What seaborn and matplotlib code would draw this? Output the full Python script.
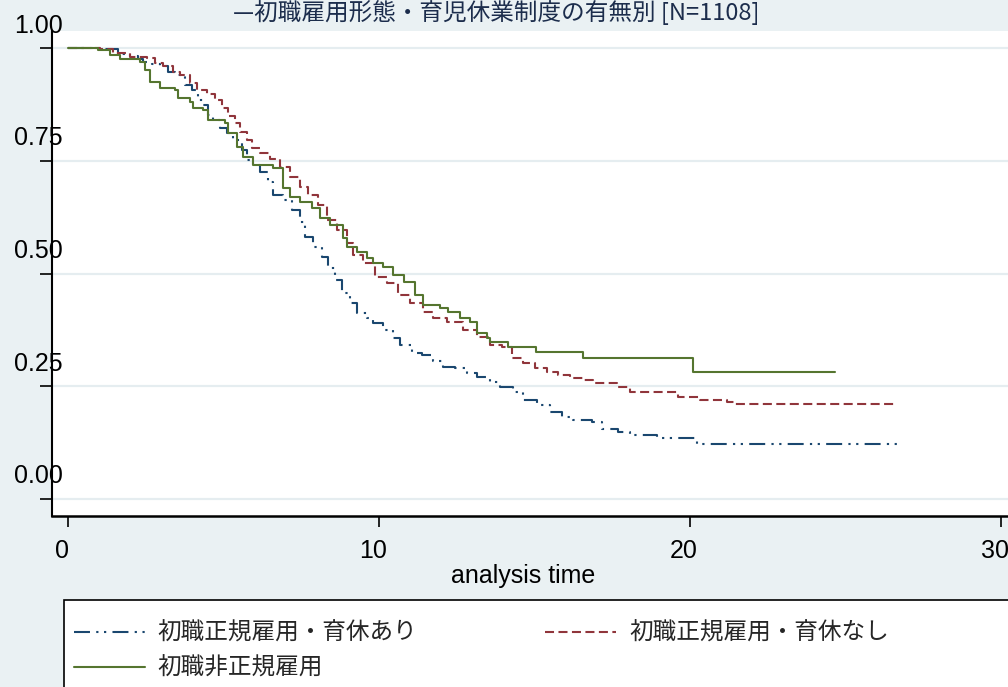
import numpy as np
import pandas as pd
import matplotlib
matplotlib.use("Agg")
import matplotlib.pyplot as plt
import matplotlib.transforms as mtransforms
from matplotlib.patches import Rectangle
import seaborn as sns

# ---------------- data ----------------
title = "—初職雇用形態・育児休業制度の有無別 [N=1108]"
x_label = "analysis time"
group_labels = ["初職正規雇用・育休あり", "初職正規雇用・育休なし", "初職非正規雇用"]
x_ticks = [0, 10, 20, 30]
y_ticks = [0.00, 0.25, 0.50, 0.75, 1.00]
y_tick_labels = ["0.00", "0.25", "0.50", "0.75", "1.00"]

time_a = [0, 1.13, 1.61, 1.99, 2.25, 2.41, 2.70, 2.96, 3.22, 3.44, 3.76, 3.99, 4.18, 4.34,
          4.50, 4.66, 4.89, 5.11, 5.31, 5.59, 5.76, 5.95, 6.17, 6.43, 6.59, 6.91, 7.20, 7.46,
          7.62, 7.88, 8.17, 8.36, 8.59, 8.81, 9.07, 9.29, 9.61, 9.81, 10.13, 10.45, 10.68,
          11.06, 11.38, 11.74, 12.06, 12.44, 12.83, 13.15, 13.57, 13.89, 14.31, 14.63, 15.08,
          15.50, 15.88, 16.24, 16.85, 17.17, 17.68, 18.07, 18.94, 20.23, 26.75]
surv_a = [1.0, 0.998, 0.987, 0.982, 0.976, 0.969, 0.965, 0.960, 0.947, 0.940, 0.918, 0.907,
          0.885, 0.874, 0.851, 0.840, 0.823, 0.812, 0.796, 0.774, 0.752, 0.741, 0.725, 0.703,
          0.674, 0.663, 0.641, 0.614, 0.581, 0.559, 0.537, 0.512, 0.486, 0.457, 0.435, 0.412,
          0.401, 0.390, 0.375, 0.357, 0.341, 0.324, 0.319, 0.306, 0.293, 0.290, 0.279, 0.271,
          0.259, 0.248, 0.237, 0.220, 0.208, 0.193, 0.182, 0.175, 0.171, 0.155, 0.149, 0.142,
          0.135, 0.122, 0.122]

time_b = [0, 1.03, 1.45, 1.99, 2.54, 2.80, 3.05, 3.38, 3.60, 3.92, 4.15, 4.47, 4.73, 4.95,
          5.14, 5.37, 5.53, 5.76, 5.92, 6.17, 6.50, 6.82, 7.14, 7.46, 7.72, 8.04, 8.33, 8.65,
          8.97, 9.16, 9.49, 9.87, 10.26, 10.61, 11.00, 11.41, 11.74, 12.19, 12.70, 13.15,
          13.57, 13.95, 14.28, 14.63, 15.02, 15.40, 15.76, 16.14, 16.56, 16.88, 17.65, 18.07,
          19.61, 20.32, 21.19, 21.45, 26.66]
surv_b = [1.0, 0.998, 0.989, 0.980, 0.978, 0.967, 0.960, 0.947, 0.940, 0.922, 0.907, 0.898,
          0.885, 0.867, 0.849, 0.834, 0.814, 0.796, 0.778, 0.767, 0.754, 0.736, 0.714, 0.692,
          0.674, 0.652, 0.619, 0.596, 0.568, 0.541, 0.523, 0.492, 0.479, 0.452, 0.435, 0.415,
          0.401, 0.392, 0.375, 0.359, 0.341, 0.337, 0.313, 0.302, 0.290, 0.282, 0.275, 0.268,
          0.264, 0.257, 0.248, 0.237, 0.226, 0.220, 0.215, 0.211, 0.211]

time_c = [0, 0.96, 1.35, 1.67, 2.32, 2.48, 2.64, 2.96, 3.44, 3.54, 3.92, 4.02, 4.34, 4.50,
          5.05, 5.14, 5.43, 5.63, 5.95, 6.59, 6.91, 7.14, 7.46, 7.85, 8.10, 8.42, 8.84, 8.97,
          9.29, 9.61, 9.81, 10.13, 10.45, 10.80, 11.16, 11.41, 11.96, 12.22, 12.60, 12.93,
          13.15, 13.47, 13.57, 14.15, 15.05, 16.56, 20.10, 24.66]
surv_c = [1.0, 0.996, 0.985, 0.976, 0.969, 0.951, 0.925, 0.911, 0.907, 0.889, 0.880, 0.867,
          0.863, 0.840, 0.834, 0.812, 0.780, 0.758, 0.741, 0.734, 0.690, 0.670, 0.659, 0.645,
          0.623, 0.608, 0.579, 0.559, 0.548, 0.534, 0.523, 0.514, 0.497, 0.481, 0.452, 0.430,
          0.424, 0.415, 0.401, 0.392, 0.368, 0.357, 0.348, 0.337, 0.326, 0.313, 0.282, 0.282]

# ---------------- style ----------------
BG = "#eaf1f3"
GRID = "#e5edf0"
C_A, C_B, C_C = "#1a476f", "#90353b", "#55752f"
TITLE_C = "#1c2d4c"

sns.set_theme(style="white")
plt.rcParams["font.family"] = ["Liberation Sans", "Noto Sans CJK JP", "DejaVu Sans"]
plt.rcParams["lines.scale_dashes"] = False

W, H = 1008, 687
fig = plt.figure(figsize=(W / 100, H / 100), dpi=100, facecolor=BG)
ax = fig.add_axes([52 / W, 1 - 516 / H, 1 - 52 / W, (516 - 31) / H])
ax.set_facecolor("white")

df = pd.concat([
    pd.DataFrame({"time": time_a, "surv": surv_a, "group": group_labels[0]}),
    pd.DataFrame({"time": time_b, "surv": surv_b, "group": group_labels[1]}),
    pd.DataFrame({"time": time_c, "surv": surv_c, "group": group_labels[2]}),
])

styles = {
    group_labels[0]: dict(color=C_A, linestyle=(0, (11.5, 4.5, 1.6, 4.0, 1.6, 4.5))),
    group_labels[1]: dict(color=C_B, linestyle=(0, (6.5, 3.2))),
    group_labels[2]: dict(color=C_C, linestyle="-"),
}
handles = {}
for g in group_labels:
    sub = df[df["group"] == g]
    sns.lineplot(data=sub, x="time", y="surv", ax=ax, estimator=None, sort=False,
                 drawstyle="steps-post", linewidth=1.5, label=g, legend=False,
                 **styles[g])
    handles[g] = ax.get_lines()[-1]

lg = ax.get_legend()
if lg is not None:
    lg.remove()

ax.set_xlim(-0.514, 30.23)
ax.set_ylim(-0.0377, 1.0377)

# axes / spines
for s in ["top", "right"]:
    ax.spines[s].set_visible(False)
ax.spines["left"].set_color("black")
ax.spines["left"].set_linewidth(1.5)
ax.spines["bottom"].set_color("black")
ax.spines["bottom"].set_linewidth(1.8)

ax.set_yticks(y_ticks)
ax.set_yticklabels(y_tick_labels)
ax.set_xticks(x_ticks)
ax.set_xticklabels([str(t) for t in x_ticks])
ax.tick_params(axis="y", direction="out", length=8.6, width=1.2, color="black",
               pad=0, labelsize=18, labelcolor="black", left=True)
ax.tick_params(axis="x", direction="out", length=8, width=1.2, color="black",
               pad=8.5, labelsize=18, labelcolor="black", bottom=True)
ax.yaxis.grid(True, color=GRID, linewidth=1.6)
ax.xaxis.grid(False)
ax.set_xlabel("")
ax.set_ylabel("")

off_y = mtransforms.ScaledTranslation(0.23, 0.25, fig.dpi_scale_trans)
for t in ax.yaxis.get_major_ticks():
    t.label1.set_transform(t.label1.get_transform() + off_y)
off_x = mtransforms.ScaledTranslation(-0.06, 0.0, fig.dpi_scale_trans)
for t in ax.xaxis.get_major_ticks():
    t.label1.set_transform(t.label1.get_transform() + off_x)

# title and axis title
fig.text(496 / W, 1 - 13 / H, title, ha="center", va="center", fontsize=17,
         color=TITLE_C, family=["Noto Sans CJK JP", "DejaVu Sans"])
fig.text(523 / W, 1 - 576 / H, x_label, ha="center", va="center", fontsize=18,
         color="black")

# legend box (extends beyond the figure edges like the reference)
fig.patches.append(Rectangle((64 / W, -0.05), 1.0, (1 - 600 / H) + 0.05,
                             transform=fig.transFigure, facecolor="white",
                             edgecolor="black", linewidth=1.2, zorder=0))
order = [group_labels[0], group_labels[2], group_labels[1]]
leg = fig.legend([handles[g] for g in order], order, ncol=2, loc="upper left",
                 bbox_to_anchor=(74 / W, 1 - 622 / H), bbox_transform=fig.transFigure,
                 frameon=False, handlelength=3.0, handletextpad=0.55,
                 columnspacing=5.4, labelspacing=0.5, borderpad=0, borderaxespad=0,
                 prop={"family": ["Noto Sans CJK JP", "DejaVu Sans"], "size": 17})

fig.savefig("out.png", dpi=100, facecolor=BG)
